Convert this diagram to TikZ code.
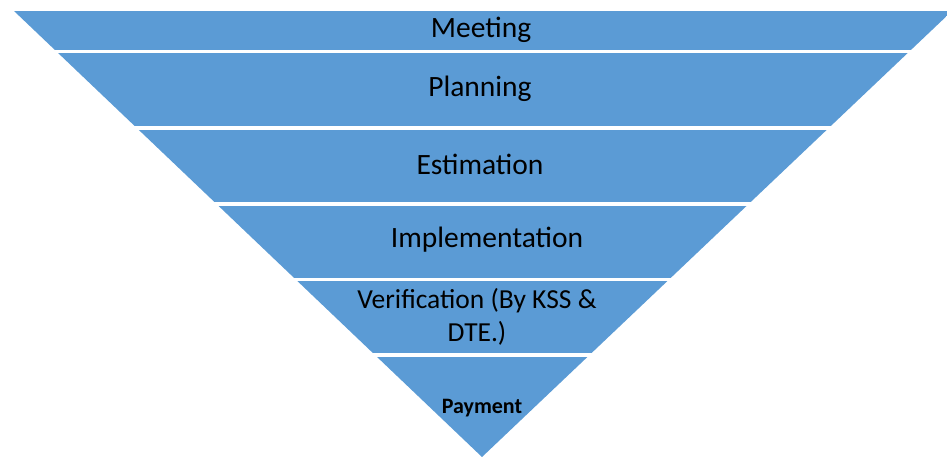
\documentclass[tikz,border=0pt]{standalone}
\usepackage{fontspec}
\setmainfont{Carlito}
\definecolor{bandblue}{HTML}{5B9BD5}
\begin{document}
\begin{tikzpicture}[x=1pt,y=-1pt,
  lbl/.style={text=black,font=\fontsize{29.5}{33}\selectfont,align=center,inner sep=0pt},
  vlbl/.style={lbl,font=\fontsize{27.5}{33}\selectfont},
  smalllbl/.style={text=black,font=\fontsize{22}{24}\selectfont\bfseries,inner sep=0pt}]
\useasboundingbox (0,0) rectangle (947,457);
\begin{scope}
  \clip (14,11) -- (952,11) -- (482,457) -- cycle;
  \foreach \a/\b in {11/50, 53.5/126.5, 130/202, 205.5/277.5, 281/353, 356.5/470}
    \fill[bandblue] (0,\a) rectangle (960,\b);
\end{scope}
\node[lbl] (meeting) at (481,30) {Meeting};
\node[lbl] (planning) at (480,89) {Planning};
\node[lbl] (estimation) at (480,164) {Estimation};
\node[lbl] (implementation) at (487,240) {Implementation};
\node[vlbl] (verification) at (477,317) {Verification (By KSS \&\\DTE.)};
\node[smalllbl] (payment) at (482,408) {Payment};
\end{tikzpicture}
\end{document}
